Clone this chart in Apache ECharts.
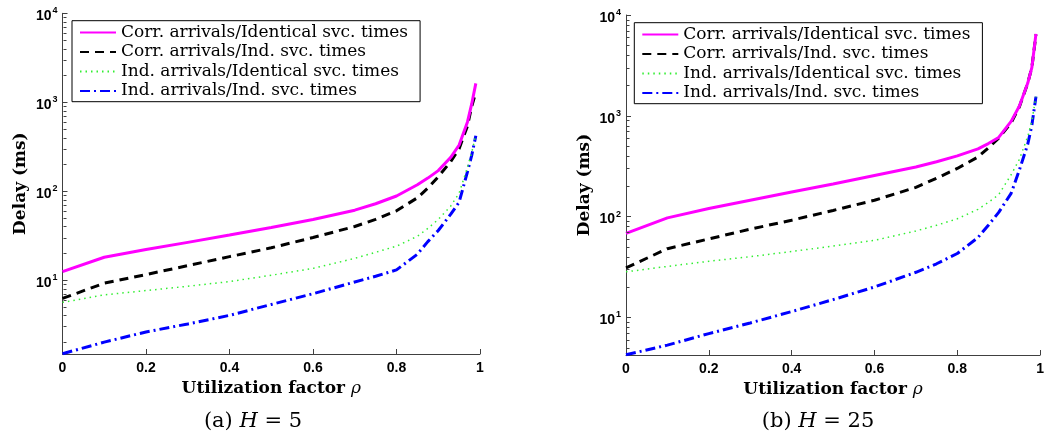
<!DOCTYPE html>
<html><head><meta charset="utf-8">
<script src="https://cdn.jsdelivr.net/npm/echarts@6/dist/echarts.min.js"></script>
<style>html,body{margin:0;padding:0;background:#fff}#c{width:1047px;height:439px}</style>
</head><body><div id="c"></div>
<script>
// ---- data ----
const rho = [0, 0.1, 0.2, 0.3, 0.4, 0.5, 0.6, 0.7, 0.75, 0.8, 0.85, 0.875, 0.9, 0.93, 0.95, 0.97, 0.98, 0.99];
const seriesNames = ['Corr. arrivals/Identical svc. times', 'Corr. arrivals/Ind. svc. times', 'Ind. arrivals/Identical svc. times', 'Ind. arrivals/Ind. svc. times'];
// (a) H = 5
const h5CorrIdent = [12.4, 18, 22, 26.5, 32, 39, 48, 61, 72, 88, 118, 140, 170, 240, 330, 600, 950, 1630];
const h5CorrInd   = [6.2, 9.2, 11.5, 14.5, 18.3, 23, 30, 40, 48, 60, 84, 108, 145, 215, 300, 540, 890, 1300];
const h5IndIdent  = [5.6, 6.8, 7.6, 8.5, 9.6, 11.3, 13.5, 17.5, 20.5, 24, 31, 38, 48, 68, 95, 185, 270, 430];
const h5IndInd    = [1.48, 2.0, 2.6, 3.2, 4.0, 5.3, 7.0, 9.5, 11, 13, 19.5, 27, 36, 55, 75, 165, 250, 420];
// (b) H = 25
const h25CorrIdent = [68, 97, 120, 145, 175, 210, 255, 310, 350, 400, 470, 530, 610, 880, 1250, 2100, 3000, 6500];
const h25CorrInd   = [31, 48, 60, 75, 92, 115, 145, 195, 240, 300, 390, 480, 600, 850, 1230, 2100, 3000, 6400];
const h25IndIdent  = [28.3, 32, 36, 40, 45, 51, 58, 72, 82, 95, 118, 138, 165, 260, 370, 620, 880, 1550];
const h25IndInd    = [4.25, 5.3, 6.9, 8.8, 11.4, 15, 20, 28, 34, 43, 62, 82, 110, 170, 290, 520, 800, 1550];
// axes
const xTicks = [0, 0.2, 0.4, 0.6, 0.8, 1];
const yMajorTicks = [10, 100, 1000, 10000];
const yMinorTicks = [2,3,4,5,6,7,8,9,20,30,40,50,60,70,80,90,200,300,400,500,600,700,800,900,2000,3000,4000,5000,6000,7000,8000,9000];
const yMin = [1.47, 4.23];
const yMax = 10000;
const captions = [['(a) ', 'H', ' = 5'], ['(b) ', 'H', ' = 25']];

// ---- styles ----
const lineStyles = [
  {color: '#ff00ff', width: 3, type: 'solid'},
  {color: '#000000', width: 3, type: [9, 6]},
  {color: '#33ee33', width: 1.5, type: [1.5, 4]},
  {color: '#0000ff', width: 3, type: [10, 4, 2, 4]}
];
const grids = [
  {left: 62.5, top: 13.3, width: 417.5, height: 340.7},
  {left: 626, top: 15, width: 418, height: 340}
];
const legendPos = [{left: 72, top: 20.7}, {left: 634.3, top: 22.7}];
const captionPos = [[253, 422], [818, 422]];
const axisColor = '#404040';
const tickFont = 'Liberation Sans';
const serif = 'DejaVu Serif';

const dataSets = [
  [h5CorrIdent, h5CorrInd, h5IndIdent, h5IndInd],
  [h25CorrIdent, h25CorrInd, h25IndIdent, h25IndInd]
];

const chart = echarts.init(document.getElementById('c'), null, {renderer: 'canvas'});

const xAxes = [], yAxes = [], series = [], legends = [], graphics = [];
for (let g = 0; g < 2; g++) {
  xAxes.push({
    gridIndex: g, type: 'value', min: 0, max: 1, interval: 0.2,
    axisLine: {lineStyle: {color: axisColor, width: 1}},
    axisTick: {inside: true, length: 5, lineStyle: {color: axisColor}},
    splitLine: {show: false},
    axisLabel: {
      margin: 7, color: '#000', fontFamily: tickFont, fontWeight: 'bold', fontSize: 14,
      formatter: v => { const t = xTicks.find(k => Math.abs(k - v) < 1e-9); return t === undefined ? '' : (t === 0 || t === 1 ? String(t) : t.toFixed(1)); }
    },
    name: '{t|Utilization factor }{r|ρ}', nameLocation: 'middle', nameGap: 24,
    nameTextStyle: {rich: {
      t: {fontFamily: serif, fontWeight: 'bold', fontSize: 17, color: '#000'},
      r: {fontFamily: serif, fontStyle: 'italic', fontSize: 17, color: '#000'}
    }}
  });
  yAxes.push({
    gridIndex: g, type: 'log', logBase: 10, min: yMin[g], max: yMax,
    axisLine: {show: true, lineStyle: {color: axisColor, width: 1}},
    axisTick: {inside: true, length: 5, lineStyle: {color: axisColor}},
    splitLine: {show: false},
    axisLabel: {
      margin: 5, showMinLabel: false,
      formatter: v => {
        const t = yMajorTicks.find(k => Math.abs(Math.log10(k) - Math.log10(v)) < 1e-6);
        if (t === undefined) return '';
        return '{b|10}{s|' + Math.round(Math.log10(t)) + '}';
      },
      rich: {
        b: {fontFamily: tickFont, fontWeight: 'bold', fontSize: 14, lineHeight: 14, padding: [6, 0, 0, 0], color: '#000'},
        s: {fontFamily: tickFont, fontWeight: 'bold', fontSize: 9, lineHeight: 10, verticalAlign: 'top', color: '#000', padding: [0, 0, 0, 1]}
      }
    },
    name: 'Delay (ms)', nameLocation: 'middle', nameGap: 33, nameRotate: 90,
    nameTextStyle: {fontFamily: serif, fontWeight: 'bold', fontSize: 17, color: '#000'}
  });
  for (let s = 0; s < 4; s++) {
    const st = lineStyles[s];
    series.push({
      type: 'line', name: seriesNames[s], xAxisIndex: g, yAxisIndex: g,
      data: rho.map((r, i) => [r, dataSets[g][s][i]]),
      symbol: 'none', showSymbol: false, smooth: false,
      itemStyle: {color: st.color},
      lineStyle: {color: st.color, width: st.width, type: st.type, cap: 'butt'},
      z: 5 - s
    });
  }
  series.push({
    type: 'custom', xAxisIndex: g, yAxisIndex: g, silent: true, z: 10,
    data: yMinorTicks.filter(v => v >= yMin[g] && v <= yMax).map(v => [0, v]),
    encode: {x: 0, y: 1},
    renderItem: (params, api) => {
      const p = api.coord([api.value(0), api.value(1)]);
      const x = Math.round(p[0]) + 0.5, y = Math.round(p[1]) + 0.5;
      return {type: 'line', shape: {x1: x, y1: y, x2: x + 3, y2: y}, style: {stroke: axisColor, lineWidth: 1}};
    },
    clip: false
  });
  legends.push({
    orient: 'vertical', left: legendPos[g].left, top: legendPos[g].top,
    data: seriesNames, itemWidth: 36, itemHeight: 12, itemGap: 0,
    padding: [2, 12, 1, 7], borderColor: '#000', borderWidth: 1, backgroundColor: '#fff',
    selectedMode: false,
    itemStyle: {opacity: 0, borderWidth: 0},
    textStyle: {fontFamily: serif, fontSize: 17, lineHeight: 19.5, color: '#000'}
  });
  graphics.push({
    type: 'text', x: captionPos[g][0], y: captionPos[g][1],
    style: {
      text: '{n|' + captions[g][0] + '}{i|' + captions[g][1] + '}{n|' + captions[g][2] + '}',
      textAlign: 'center', textVerticalAlign: 'middle',
      rich: {
        n: {fontFamily: serif, fontSize: 21, fill: '#000', color: '#000'},
        i: {fontFamily: serif, fontStyle: 'italic', fontSize: 21, fill: '#000', color: '#000'}
      }
    }
  });
}

chart.setOption({
  animation: false,
  backgroundColor: '#fff',
  grid: grids,
  xAxis: xAxes,
  yAxis: yAxes,
  legend: legends,
  series: series,
  graphic: graphics
});
</script>
</body></html>
